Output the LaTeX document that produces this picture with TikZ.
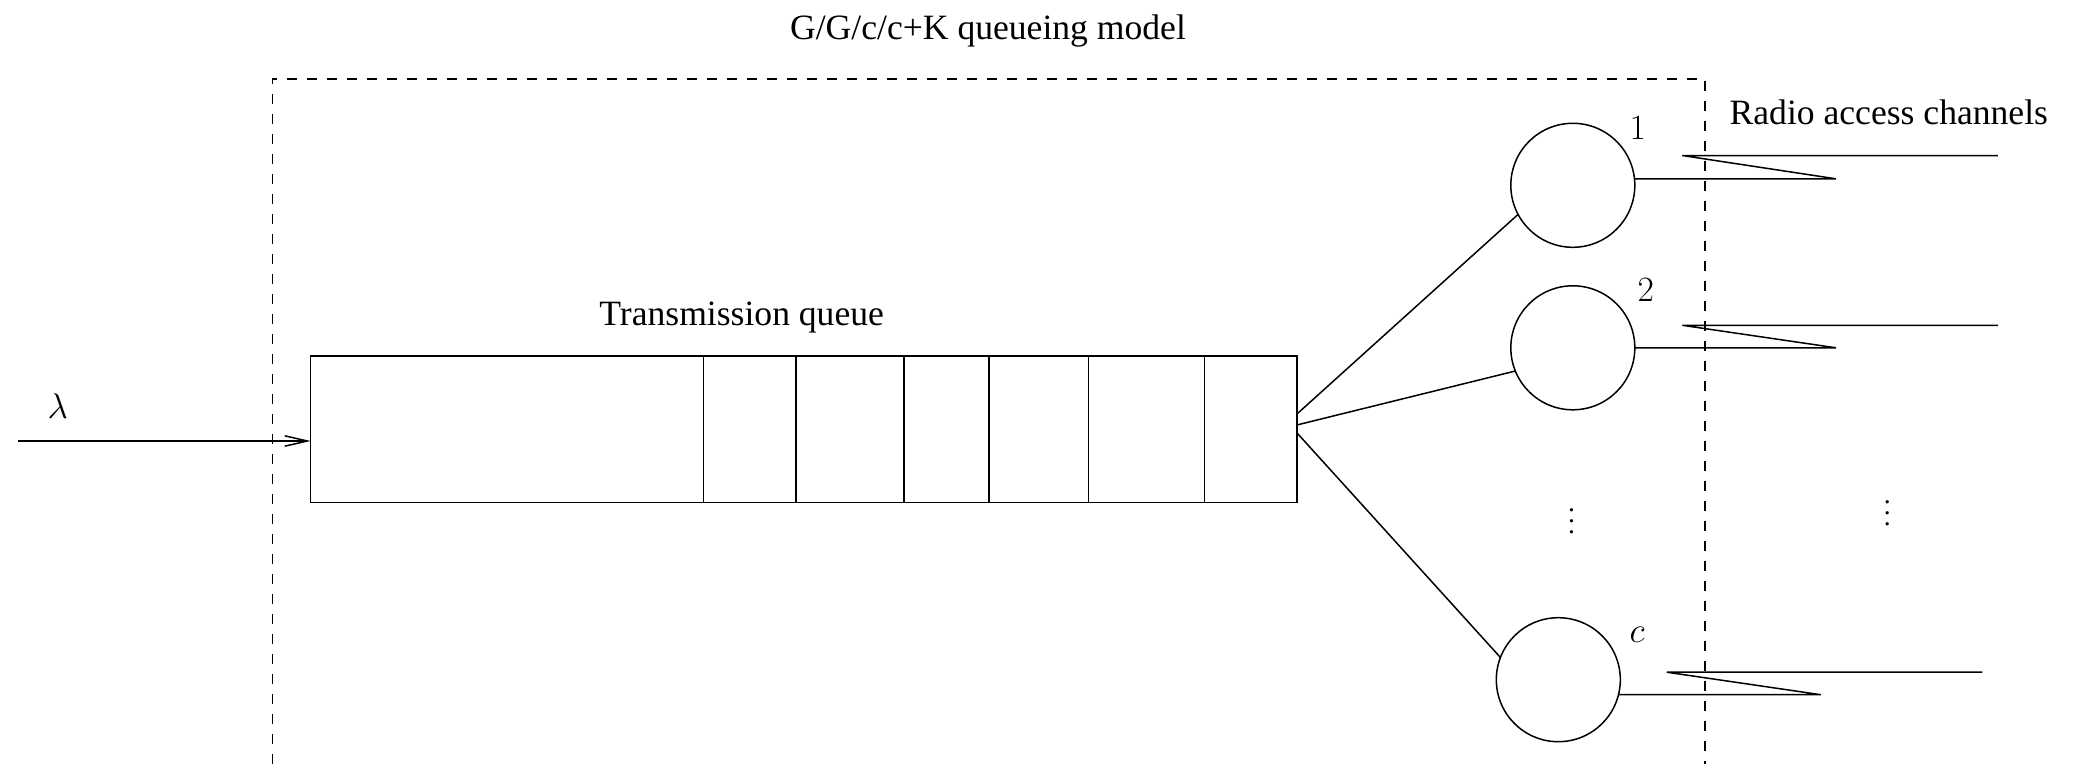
\RequirePackage{fix-cm}
\documentclass[tikz,border=0pt]{standalone}
\usepackage[no-math]{fontspec}
\setmainfont{Liberation Serif}
\usetikzlibrary{arrows.meta}
\begin{document}
\begin{tikzpicture}[x=0.5pt,y=-0.5pt,
  line width=0.75pt,
  every node/.style={font=\fontsize{17.8}{21}\selectfont},
  lbl/.style={anchor=base,inner sep=0pt},
  server/.style={draw,circle,minimum size=62pt,inner sep=0pt,outer sep=0pt},
  frame/.style={dash pattern=on 5pt off 5pt},
  arr/.style={-{Straight Barb[length=11.3pt,width=5.2pt]}},
  dotsnode/.style={anchor=base,inner sep=0pt,font=\fontsize{10}{12}\selectfont}]
\useasboundingbox (0,0) rectangle (2075,764);

% dashed frame of the queueing model
\draw[frame] (272.3,764) -- (272.3,79) -- (1705,79) -- (1705,764);

% texts
\node[lbl] (title) at (988,40) {G/G/c/c+K queueing model};
\node[lbl] (tq) at (741.7,326) {Transmission queue};
\node[lbl] (rac) at (1888.8,124.3) {Radio access channels};
\node[lbl] (lam) at (57.8,418.3) {$\lambda$};

% transmission queue
\node[draw,minimum width=493.15pt,minimum height=73.15pt,inner sep=0pt,outer sep=0pt] (q) at (803.85,429.15) {};
\foreach \x in {703.3,796,904,989,1088.7,1204.3}
  \draw (\x,356) -- (\x,502.3);

% arrival arrow
\coordinate (lin) at (18,441);
\draw[arr] (lin) -- (lin -| q.west);

% servers
\node[server] (s1) at (1572.8,185.3) {};
\node[server] (s2) at (1572.8,347.8) {};
\node[server] (sc) at (1558.3,679.7) {};
\node[lbl] (l1) at (1637.8,140) {$1$};
\node[lbl] (l2) at (1645.7,301.7) {$2$};
\node[lbl] (lc) at (1637.2,642.3) {$c$};

% dots
\node[dotsnode] (d1) at (1571.5,533.8) {\scalebox{1.375}{$\vdots$}};
\node[dotsnode] (d2) at (1887.3,525.5) {\scalebox{1.375}{$\vdots$}};

% connectors queue -> servers
\draw ([yshift=7.6pt]q.east) -- (s1.208);
\draw ([yshift=2.1pt]q.east) -- (s2.202);
\draw ([yshift=-1.9pt]q.east) -- (sc.159);

% radio channels (antenna symbols)
\draw (s1.6) -- ++(201.5,0) -- ++(-153.7,-23.3) -- ++(315.7,0);
\draw (s2.east) -- ++(201.2,0) -- ++(-153.7,-22.5) -- ++(315.7,0);
\draw (sc.-14) -- ++(202.3,0) -- ++(-154,-22.5) -- ++(315.5,0);
\end{tikzpicture}
\end{document}
